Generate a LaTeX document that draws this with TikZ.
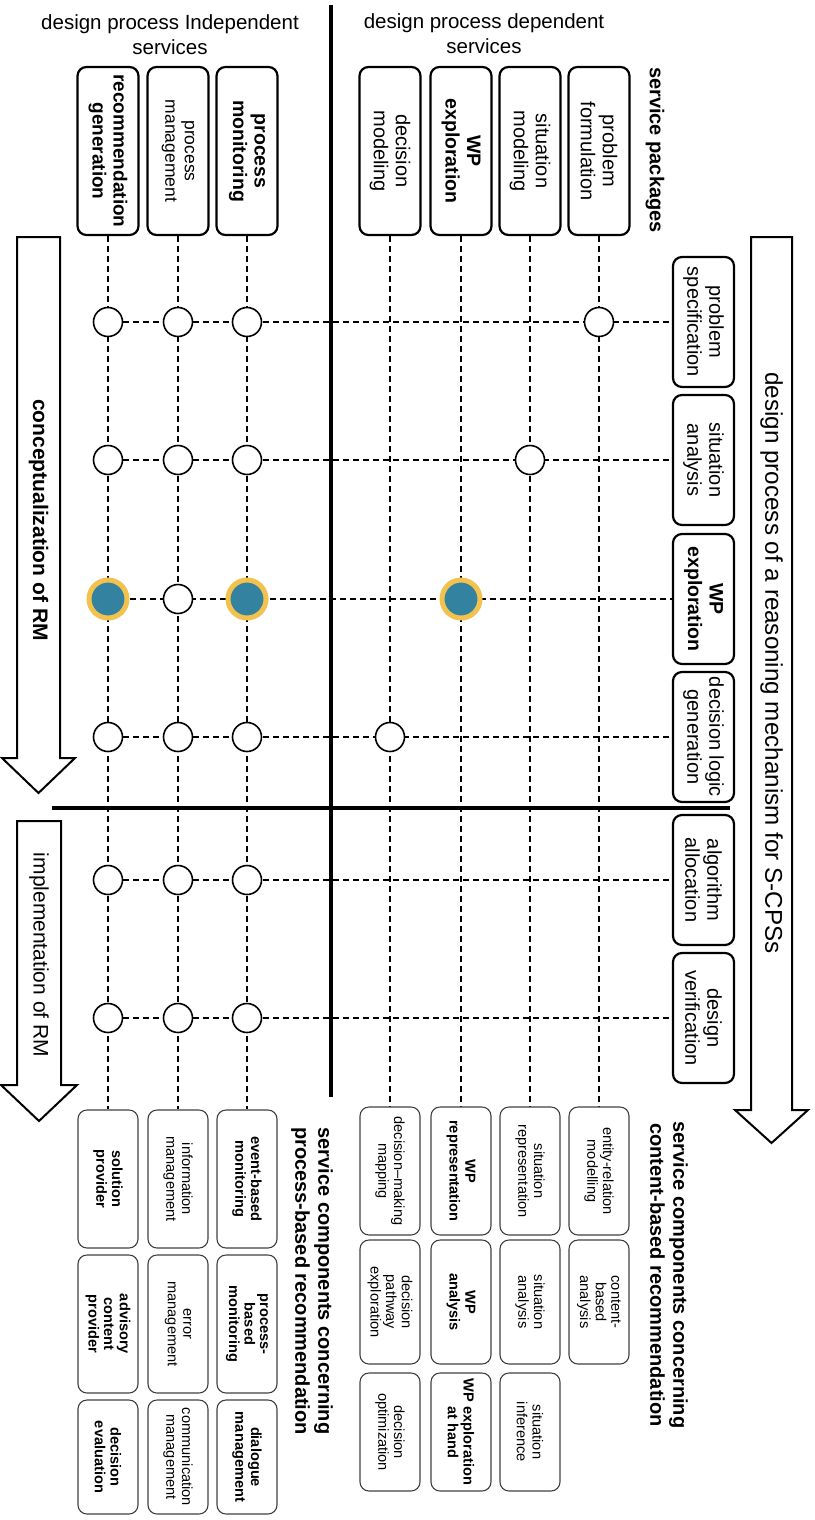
\documentclass[tikz,border=0pt]{standalone}
\usepackage{fontspec}
\setmainfont{Liberation Sans}
\pgfdeclarelayer{bg}
\pgfsetlayers{bg,main}
\definecolor{tealfill}{RGB}{50,130,160}
\definecolor{goldring}{RGB}{242,193,78}
\tikzset{
 pkg/.style={draw, line width=2.2pt, rounded corners=9pt, rotate=-90, minimum width=168pt, minimum height=61pt, inner sep=1pt, align=center, font=\fontsize{20}{22}\selectfont},
 pkgb/.style={pkg, font=\fontsize{19.5}{21.5}\selectfont\bfseries},
 proc/.style={pkg, minimum width=130pt},
 procb/.style={proc, font=\fontsize{19.5}{21.5}\selectfont\bfseries},
 comp/.style={draw=black!75, line width=1.1pt, rounded corners=9pt, rotate=-90, minimum height=60pt, inner sep=1pt, align=center, font=\fontsize{14.6}{15.6}\selectfont},
 compb/.style={comp, font=\fontsize{14.6}{15.6}\selectfont\bfseries},
 dot/.style={circle, draw, line width=1.6pt, fill=white, minimum size=29pt, inner sep=0pt},
 hot/.style={circle, draw=goldring, line width=5pt, fill=tealfill, minimum size=38pt, inner sep=0pt},
 dl/.style={dash pattern=on 6pt off 4pt, line width=1.4pt},
 bigarrow/.style={draw, line width=2pt, fill=white},
 sep/.style={line width=4pt},
 lbl/.style={inner sep=0pt, align=center}
}
\begin{document}
\begin{tikzpicture}[x=1pt,y=-1pt]
\useasboundingbox (0,0) rectangle (814,1520);

% big arrows
\draw[bigarrow] (751,237) -- (792,237) -- (792,1110) -- (808,1110) -- (771.5,1143) -- (735,1110) -- (751,1110) -- cycle;
\draw[bigarrow] (17,237) -- (60,237) -- (60,758) -- (75,758) -- (38.5,793) -- (2,758) -- (17,758) -- cycle;
\draw[bigarrow] (17,821) -- (61,821) -- (61,1085) -- (77,1085) -- (39,1121) -- (1,1085) -- (17,1085) -- cycle;
\node[lbl, rotate=-90, font=\fontsize{24.2}{26}\selectfont] (ar1) at (771.5,663) {design process of a reasoning mechanism for S-CPSs};
\node[lbl, rotate=-90, font=\fontsize{21}{23}\selectfont\bfseries] (ar2) at (38.5,520) {conceptualization of RM};
\node[lbl, rotate=-90, font=\fontsize{21}{23}\selectfont] (ar3) at (39,955) {implementation of RM};

% titles
\node[lbl, font=\fontsize{20.5}{25}\selectfont] (t1) at (170,35) {design process Independent\\services};
\node[lbl, font=\fontsize{20.5}{25}\selectfont] (t2) at (484,34) {design process dependent\\services};
\node[lbl, rotate=-90, font=\fontsize{20}{22}\selectfont\bfseries] (spk) at (655,150) {service packages};
\node[lbl, rotate=-90, font=\fontsize{20}{23}\selectfont\bfseries] (tcb) at (669,1275) {service components concerning\\content-based recommendation};
\node[lbl, rotate=-90, font=\fontsize{20}{23}\selectfont\bfseries] (tpb) at (312,1281) {service components concerning\\process-based recommendation};

% service packages
\node[pkgb, font=\fontsize{19}{21}\selectfont\bfseries] (rg) at (108,151) {recommendation\\generation};
\node[pkg, font=\fontsize{17.5}{19.5}\selectfont] (pm) at (178,151) {process\\management};
\node[pkgb] (pmo) at (247,151) {process\\monitoring};
\node[pkg] (dm) at (390,151) {decision\\modeling};
\node[pkgb] (wpe) at (461,151) {WP\\exploration};
\node[pkg] (sm) at (530,151) {situation\\modeling};
\node[pkg] (pf) at (599,151) {problem\\formulation};

% design process steps
\node[proc] (ps) at (703.5,322) {problem\\specification};
\node[proc] (sa) at (703.5,460) {situation\\analysis};
\node[procb] (wpx) at (703.5,599) {WP\\exploration};
\node[proc] (dlg) at (703.5,737) {decision logic\\generation};
\node[proc] (aa) at (703.5,880) {algorithm\\allocation};
\node[proc] (dv) at (703.5,1018) {design\\verification};

% content-based components
\node[comp, minimum width=128pt] (er) at (599,1171) {entity-relation\\modelling};
\node[comp, minimum width=124pt] (cba) at (599,1302) {content-\\based\\analysis};
\node[comp, minimum width=128pt] (sr) at (530,1171) {situation\\representation};
\node[comp, minimum width=124pt] (sa2) at (530,1302) {situation\\analysis};
\node[comp, minimum width=118pt] (si) at (530,1432) {situation\\inference};
\node[compb, minimum width=128pt] (wpr) at (461,1171) {WP\\representation};
\node[compb, minimum width=124pt] (wpa) at (461,1302) {WP\\analysis};
\node[compb, minimum width=118pt] (wph) at (461,1432) {WP exploration\\at hand};
\node[comp, minimum width=128pt] (dmm) at (390,1171) {decision–making\\mapping};
\node[comp, minimum width=124pt] (dpe) at (390,1302) {decision\\pathway\\exploration};
\node[comp, minimum width=118pt] (dop) at (390,1432) {decision\\optimization};

% process-based components
\node[compb, minimum width=138pt] (ebm) at (247,1179) {event-based\\monitoring};
\node[compb, minimum width=138pt] (pbm) at (247,1324) {process-\\based\\monitoring};
\node[compb, minimum width=114pt] (dlm) at (247,1457) {dialogue\\management};
\node[comp, minimum width=138pt] (im) at (178,1179) {information\\management};
\node[comp, minimum width=138pt] (em) at (178,1324) {error\\management};
\node[comp, minimum width=114pt] (cm) at (178,1457) {communication\\management};
\node[compb, minimum width=138pt] (spv) at (108,1179) {solution\\provider};
\node[compb, minimum width=138pt] (acp) at (108,1324) {advisory\\content\\provider};
\node[compb, minimum width=114pt] (dev) at (108,1457) {decision\\evaluation};

% matrix circles
\node[dot] (a1) at (rg |- ps) {};
\node[dot] (b1) at (pm |- ps) {};
\node[dot] (c1) at (pmo |- ps) {};
\node[dot] (x1) at (pf |- ps) {};
\node[dot] (a2) at (rg |- sa) {};
\node[dot] (b2) at (pm |- sa) {};
\node[dot] (c2) at (pmo |- sa) {};
\node[dot] (x2) at (sm |- sa) {};
\node[hot] (a3) at (rg |- wpx) {};
\node[dot] (b3) at (pm |- wpx) {};
\node[hot] (c3) at (pmo |- wpx) {};
\node[hot] (x3) at (wpe |- wpx) {};
\node[dot] (a4) at (rg |- dlg) {};
\node[dot] (b4) at (pm |- dlg) {};
\node[dot] (c4) at (pmo |- dlg) {};
\node[dot] (x4) at (dm |- dlg) {};
\node[dot] (a5) at (rg |- aa) {};
\node[dot] (b5) at (pm |- aa) {};
\node[dot] (c5) at (pmo |- aa) {};
\node[dot] (a6) at (rg |- dv) {};
\node[dot] (b6) at (pm |- dv) {};
\node[dot] (c6) at (pmo |- dv) {};

\begin{pgfonlayer}{bg}
\draw[dl] (rg) -- (spv);
\draw[dl] (pm) -- (im);
\draw[dl] (pmo) -- (ebm);
\draw[dl] (dm) -- (dmm);
\draw[dl] (wpe) -- (wpr);
\draw[dl] (sm) -- (sr);
\draw[dl] (pf) -- (er);
\draw[dl] (a1) -- (ps);
\draw[dl] (a2) -- (sa);
\draw[dl] (a3) -- (wpx);
\draw[dl] (a4) -- (dlg);
\draw[dl] (a5) -- (aa);
\draw[dl] (a6) -- (dv);
\end{pgfonlayer}

% separators
\draw[sep] (331,5) -- (331,1097);
\draw[sep] (52,808) -- (730,808);
\end{tikzpicture}
\end{document}
